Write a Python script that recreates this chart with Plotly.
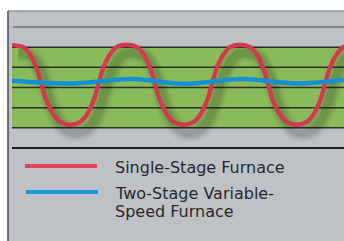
import plotly.graph_objects as go

# ---------------- data ----------------
# time axis (arbitrary units; one on/off cycle = 4 units)
single_t = [0, 0.4, 0.65, 0.9, 1.05, 1.2, 1.45, 1.7, 2.05, 2.4, 2.65, 2.9, 3.05, 3.2, 3.45, 3.7,
            4.07, 4.42, 4.67, 4.92, 5.07, 5.22, 5.47, 5.72, 6.07, 6.42, 6.67, 6.92, 7.07, 7.22, 7.47, 7.72,
            8.07, 8.42, 8.67, 8.92, 9.07, 9.22, 9.47, 9.72, 10.07, 10.42, 10.67, 10.92, 11.07, 11.22, 11.47, 11.72,
            11.8]
single_temp = [5.10, 5.00, 4.62, 3.85, 3.13, 2.40, 1.70, 1.30, 1.15, 1.28, 1.66, 2.40, 3.13, 3.86, 4.60, 5.00,
               5.12, 5.00, 4.62, 3.85, 3.13, 2.40, 1.70, 1.30, 1.15, 1.28, 1.66, 2.40, 3.13, 3.86, 4.60, 5.00,
               5.12, 5.00, 4.62, 3.85, 3.13, 2.40, 1.70, 1.30, 1.15, 1.28, 1.66, 2.40, 3.13, 3.86, 4.60, 5.00,
               5.04]

two_stage_t = [0, 2.1, 4.3, 6.1, 8.1, 10.1, 11.75]
two_stage_temp = [3.33, 3.20, 3.42, 3.18, 3.42, 3.20, 3.38]

comfort_band = [1, 5]          # green comfort zone (lower, upper)
band_lines = [1, 2, 3, 4, 5]   # rules inside comfort zone
upper_rule = 6
lower_rule = 0

series_names = ["Single-Stage Furnace", "Two-Stage Variable-", "Speed Furnace"]

# ---------------- figure ----------------
W, H = 344, 241
PX_PER_T = 28.25
PX_PER_V = 20.17
X0_PX = 12
Y0_PX = 148
x_range = [-X0_PX / PX_PER_T, (W - X0_PX) / PX_PER_T]
y_range = [-(H - Y0_PX) / PX_PER_V, Y0_PX / PX_PER_V]

RED = "#d53751"
BLUE = "#1591d3"
PANEL = "#bec2c6"
GREEN = "#8aba5a"

fig = go.Figure()

# drop shadow of the single-stage curve
for w, a in [(18, 0.05), (13, 0.07), (8, 0.09)]:
    fig.add_trace(go.Scatter(
        x=[t + 0.22 for t in single_t], y=[v - 0.4 for v in single_temp],
        mode="lines", line=dict(color=f"rgba(0,0,0,{a})", width=w, shape="spline"),
        hoverinfo="skip", showlegend=False))

fig.add_trace(go.Scatter(x=single_t, y=single_temp, mode="lines",
                         line=dict(color=RED, width=4.3, shape="spline", smoothing=0.8),
                         showlegend=False, name=series_names[0]))
fig.add_trace(go.Scatter(x=two_stage_t, y=two_stage_temp, mode="lines",
                         line=dict(color=BLUE, width=4.5, shape="spline"),
                         showlegend=False, name="Two-Stage Variable-Speed Furnace"))

shapes = []
# gray panel
shapes.append(dict(type="rect", xref="paper", yref="paper", x0=8 / W, x1=1,
                   y0=0, y1=1 - 11 / H, fillcolor=PANEL, line=dict(width=0), layer="below"))
shapes.append(dict(type="line", xref="paper", yref="paper", x0=8 / W, x1=1,
                   y0=1 - 11 / H, y1=1 - 11 / H, line=dict(color="#909396", width=1.5), layer="below"))
shapes.append(dict(type="line", xref="paper", yref="paper", x0=8 / W, x1=8 / W,
                   y0=0, y1=1 - 11 / H, line=dict(color="#4a4a4c", width=1.5), layer="below"))
# comfort band
shapes.append(dict(type="rect", xref="x", yref="y", x0=0, x1=x_range[1] + 1,
                   y0=comfort_band[0], y1=comfort_band[1], fillcolor=GREEN,
                   line=dict(width=0), layer="below"))
for v in band_lines:
    shapes.append(dict(type="line", xref="x", yref="y", x0=0, x1=x_range[1] + 1,
                       y0=v, y1=v, line=dict(color="#2d3026", width=1.5), layer="below"))
shapes.append(dict(type="line", xref="x", yref="y", x0=0.04, x1=x_range[1] + 1,
                   y0=upper_rule, y1=upper_rule, line=dict(color="#6c6f73", width=1.5), layer="below"))
shapes.append(dict(type="line", xref="x", yref="y", x0=0, x1=x_range[1] + 1,
                   y0=lower_rule, y1=lower_rule, line=dict(color="#1e1e1e", width=2), layer="below"))

# legend swatches
def py(p):
    return 1 - p / H

shapes.append(dict(type="line", xref="paper", yref="paper", x0=25 / W, x1=97 / W,
                   y0=py(166), y1=py(166), line=dict(color="#e4435c", width=4)))
shapes.append(dict(type="line", xref="paper", yref="paper", x0=26 / W, x1=98 / W,
                   y0=py(192), y1=py(192), line=dict(color="#1a97dc", width=4)))

annotations = []
for txt, ypix in [(series_names[0], 167.3), (series_names[1], 193.2), (series_names[2], 211.8)]:
    annotations.append(dict(text=txt, xref="paper", yref="paper", x=113 / W, y=py(ypix),
                            xanchor="left", yanchor="middle", showarrow=False,
                            font=dict(family="DejaVu Sans", size=16, color="#28282a")))

fig.update_layout(
    width=W, height=H, margin=dict(l=0, r=0, t=0, b=0),
    paper_bgcolor="white", plot_bgcolor="rgba(0,0,0,0)",
    xaxis=dict(range=x_range, visible=False, fixedrange=True),
    yaxis=dict(range=y_range, visible=False, fixedrange=True),
    shapes=shapes, annotations=annotations, showlegend=False,
)

fig.write_html(
    "out.html",
    config={"displayModeBar": False},
    post_script="document.body.style.margin='0';document.body.style.overflow='hidden';",
)
